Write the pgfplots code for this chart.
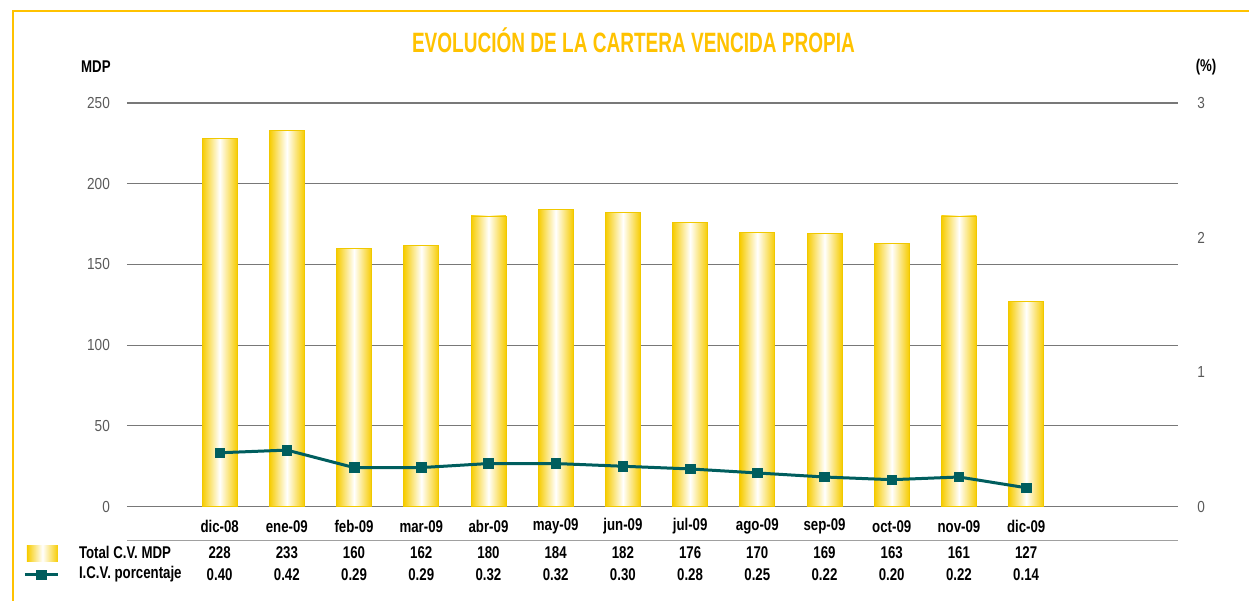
\documentclass[border=0pt]{standalone}
\usepackage{fontspec}
\setmainfont{Liberation Sans}
\newfontfamily\cond{Liberation Sans}[FakeStretch=0.78]
\newfontfamily\condl{Liberation Sans}[FakeStretch=0.85]
\newfontfamily\condt{Liberation Sans}[FakeStretch=0.68]
\usepackage{pgfplots}
\pgfplotsset{compat=1.18}
\definecolor{gold}{RGB}{247,204,0}
\definecolor{golddark}{RGB}{240,200,0}
\definecolor{titlegold}{RGB}{255,194,0}
\definecolor{icvteal}{RGB}{0,94,94}
\definecolor{gridgray}{RGB}{120,120,120}
\definecolor{ticktext}{RGB}{90,90,90}
\pgfplotsset{goldbar/.style={ybar, bar width=17.5pt, draw=golddark, line width=0.4pt,
  left color=gold, right color=gold, middle color=white}}
\begin{document}
\begin{tikzpicture}[x=0.5pt,y=0.5pt]
\path (0,0) rectangle (1250,601);
\draw[titlegold, line width=1pt] (13,0) -- (13,590) -- (1250,590);
\node[font=\condt\bfseries\fontsize{14}{16}\selectfont, text=titlegold] at (634,561) {EVOLUCIÓN DE LA CARTERA VENCIDA PROPIA};
\node[font=\cond\bfseries\fontsize{8.5}{10}\selectfont] at (96,534) {MDP};
\node[font=\cond\bfseries\fontsize{8.5}{10}\selectfont] at (1207,534) {(\%)};
\begin{axis}[
  at={(63.5pt,47pt)}, anchor=south west, scale only axis,
  width=526pt, height=202pt,
  xmin=-1.38, xmax=14.26, ymin=0, ymax=250,
  axis line style={draw=none}, tick style={draw=none},
  ymajorgrids, grid style={gridgray, line width=0.6pt},
  ytick={0,50,100,150,200,250},
  xtick={0,...,12},
  xticklabels={dic-08,ene-09,feb-09,mar-09,abr-09,may-09,jun-09,jul-09,ago-09,sep-09,oct-09,nov-09,dic-09},
  xticklabel style={font=\cond\bfseries\fontsize{8.5}{10}\selectfont, anchor=center, yshift=-10pt},
  yticklabel style={font=\condl\fontsize{8}{9}\selectfont, text=ticktext, anchor=east, xshift=-5pt},
  /pgf/number format/assume math mode=true,
  clip=false,
]
\addplot[goldbar] coordinates {(0,228)};
\addplot[goldbar] coordinates {(1,233)};
\addplot[goldbar] coordinates {(2,160)};
\addplot[goldbar] coordinates {(3,162)};
\addplot[goldbar] coordinates {(4,180)};
\addplot[goldbar] coordinates {(5,184)};
\addplot[goldbar] coordinates {(6,182)};
\addplot[goldbar] coordinates {(7,176)};
\addplot[goldbar] coordinates {(8,170)};
\addplot[goldbar] coordinates {(9,169)};
\addplot[goldbar] coordinates {(10,163)};
\addplot[goldbar] coordinates {(11,180)};
\addplot[goldbar] coordinates {(12,127)};
\end{axis}
\begin{axis}[
  at={(63.5pt,47pt)}, anchor=south west, scale only axis,
  width=526pt, height=202pt,
  xmin=-1.38, xmax=14.26, ymin=0, ymax=3,
  axis line style={draw=none}, tick style={draw=none},
  hide x axis, axis y line*=right,
  ytick={0,1,2,3},
  yticklabel style={font=\condl\fontsize{8}{9}\selectfont, text=ticktext, anchor=center, xshift=11.5pt},
  /pgf/number format/assume math mode=true,
  clip=false,
]
\addplot[icvteal, line width=1.5pt, mark=square*, mark size=2.4pt, mark options={fill=icvteal, line width=0.3pt}]
  coordinates {(0,0.40) (1,0.42) (2,0.29) (3,0.29) (4,0.32) (5,0.32) (6,0.30) (7,0.28) (8,0.25) (9,0.22) (10,0.20) (11,0.22) (12,0.14)};
\end{axis}
\draw[gridgray!70, line width=0.8pt] (127,60) -- (1179,60);
\foreach \v [count=\i from 0] in {228,233,160,162,180,184,182,176,170,169,163,161,127}
  \node[font=\cond\bfseries\fontsize{8.5}{10}\selectfont] at ({219.8+67.26*\i},48) {\v};
\foreach \v [count=\i from 0] in {0.40,0.42,0.29,0.29,0.32,0.32,0.30,0.28,0.25,0.22,0.20,0.22,0.14}
  \node[font=\cond\bfseries\fontsize{8.5}{10}\selectfont] at ({219.8+67.26*\i},26) {\v};
\shade[left color=gold, right color=gold, middle color=white] (27,39) rectangle (58,55);
\node[font=\cond\bfseries\fontsize{8.5}{10}\selectfont, anchor=west] at (72,48) {Total C.V. MDP};
\node[font=\cond\bfseries\fontsize{8.5}{10}\selectfont, anchor=west] at (72,26) {I.C.V. porcentaje};
\draw[icvteal, line width=1.5pt] (25,26) -- (58,26);
\fill[icvteal] (36,21) rectangle (47,31);
\end{tikzpicture}
\end{document}
